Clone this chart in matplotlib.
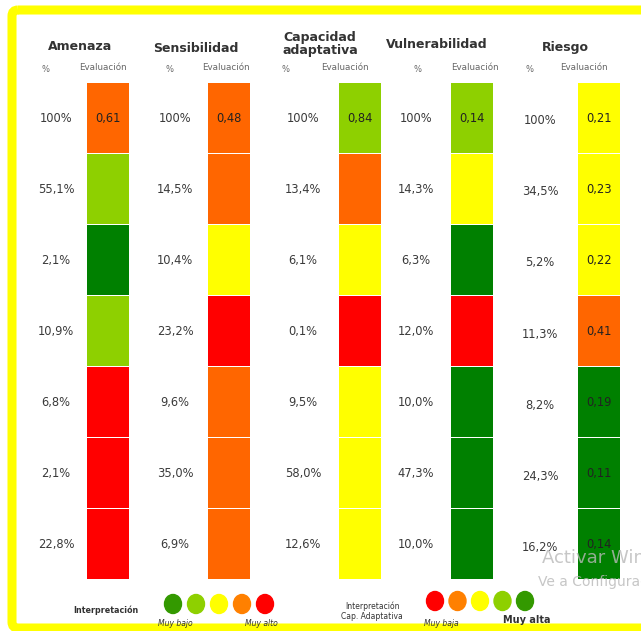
import matplotlib.pyplot as plt
from matplotlib.patches import Ellipse, FancyBboxPatch

# colours used in the table
OR = "#FF6600"
LG = "#8ED000"
DG = "#008000"
RD = "#FF0000"
YE = "#FFFF00"

headers = ["Amenaza", "Sensibilidad", "Capacidad\nadaptativa", "Vulnerabilidad", "Riesgo"]

amenaza_pct = ["100%", "55,1%", "2,1%", "10,9%", "6,8%", "2,1%", "22,8%"]
amenaza_col = [OR, LG, DG, LG, RD, RD, RD]
amenaza_val = ["0,61", "", "", "", "", "", ""]

sensib_pct = ["100%", "14,5%", "10,4%", "23,2%", "9,6%", "35,0%", "6,9%"]
sensib_col = [OR, OR, YE, RD, OR, OR, OR]
sensib_val = ["0,48", "", "", "", "", "", ""]

capad_pct = ["100%", "13,4%", "6,1%", "0,1%", "9,5%", "58,0%", "12,6%"]
capad_col = [LG, OR, YE, RD, YE, YE, YE]
capad_val = ["0,84", "", "", "", "", "", ""]

vulner_pct = ["100%", "14,3%", "6,3%", "12,0%", "10,0%", "47,3%", "10,0%"]
vulner_col = [LG, YE, DG, RD, DG, DG, DG]
vulner_val = ["0,14", "", "", "", "", "", ""]

riesgo_pct = ["100%", "34,5%", "5,2%", "11,3%", "8,2%", "24,3%", "16,2%"]
riesgo_col = [YE, YE, YE, OR, DG, DG, DG]
riesgo_val = ["0,21", "0,23", "0,22", "0,41", "0,19", "0,11", "0,14"]

legend1_colors = ["#339900", "#8ED000", "#FFFF00", "#FF8000", "#FF0000"]
legend2_colors = ["#FF0000", "#FF8000", "#FFFF00", "#8ED000", "#339900"]

columns = [
    (amenaza_pct, amenaza_col, amenaza_val),
    (sensib_pct, sensib_col, sensib_val),
    (capad_pct, capad_col, capad_val),
    (vulner_pct, vulner_col, vulner_val),
    (riesgo_pct, riesgo_col, riesgo_val),
]

# layout in pixels
W, H = 641, 631
bar_left = [87, 208, 339, 451, 578]
bar_w = 42
pct_x = [56, 175, 303, 416, 540]
head_x = [80, 196, 320, 437, 565]
head_y = [47, 48, 44, 45, 47]
sub_pct_x = [46, 170, 285, 417, 529]
sub_ev_x = [103, 226, 345, 475, 584]
top, row_h = 83, 71

fig = plt.figure(figsize=(W / 100, H / 100), dpi=100)
ax = fig.add_axes([0, 0, 1, 1])
ax.set_xlim(0, W)
ax.set_ylim(H, 0)
ax.axis("off")

# yellow frame (right side cut by the image edge)
ax.add_patch(FancyBboxPatch((12, 10), W + 20, 618, boxstyle="round,pad=0,rounding_size=6",
                            fill=False, ec="#FFFF00", lw=6.5, clip_on=True))

txt = "#3a3a3a"
for i, (pcts, cols, vals) in enumerate(columns):
    ax.text(head_x[i], head_y[i], headers[i], ha="center", va="center", fontsize=9,
            fontweight="bold", color="#333333", linespacing=1.05)
    ax.text(sub_pct_x[i], 69, "%", ha="center", va="center", fontsize=6, color="#666666")
    ax.text(sub_ev_x[i], 67, "Evaluación", ha="center", va="center", fontsize=6.3, color="#666666")
    ys = [top + r * row_h for r in range(len(cols))]
    ax.bar([bar_left[i] + bar_w / 2] * len(cols), [row_h - 1.5] * len(cols), width=bar_w,
           bottom=ys, color=cols, edgecolor="none")
    for r, (p, v) in enumerate(zip(pcts, vals)):
        yc = ys[r] + row_h / 2
        if i == 4:
            yc += 2 if r < 3 else 3
        ax.text(pct_x[i], yc, p, ha="center", va="center", fontsize=8.3, color=txt)
        if v:
            ax.text(bar_left[i] + bar_w / 2, ys[r] + row_h / 2, v, ha="center", va="center",
                    fontsize=8.3, color="#222222")

# watermark
ax.text(542, 558, "Activar Windows", fontsize=13, color="#b8b8b8", va="center", alpha=0.8)
ax.text(538, 582, "Ve a Configuración", fontsize=10, color="#b8b8b8", va="center", alpha=0.8)

# legends
ax.text(106, 610, "Interpretación", ha="center", va="center", fontsize=5.8,
        fontweight="bold", color="#333333")
for k, c in enumerate(legend1_colors):
    ax.add_patch(Ellipse((173 + 23 * k, 604), 17, 19, color=c))
ax.text(175, 623, "Muy bajo", ha="center", va="center", fontsize=5.5, style="italic", color="#333333")
ax.text(261, 623, "Muy alto", ha="center", va="center", fontsize=5.5, style="italic", color="#333333")

ax.text(372, 611, "Interpretación\nCap. Adaptativa", ha="center", va="center", fontsize=5.5,
        color="#333333", linespacing=1.2)
for k, c in enumerate(legend2_colors):
    ax.add_patch(Ellipse((435 + 22.5 * k, 601), 17, 19, color=c))
ax.text(441, 624, "Muy baja", ha="center", va="center", fontsize=5.5, style="italic", color="#333333")
ax.text(527, 620, "Muy alta", ha="center", va="center", fontsize=7, fontweight="bold", color="#333333")

fig.savefig("out.png", dpi=100)
